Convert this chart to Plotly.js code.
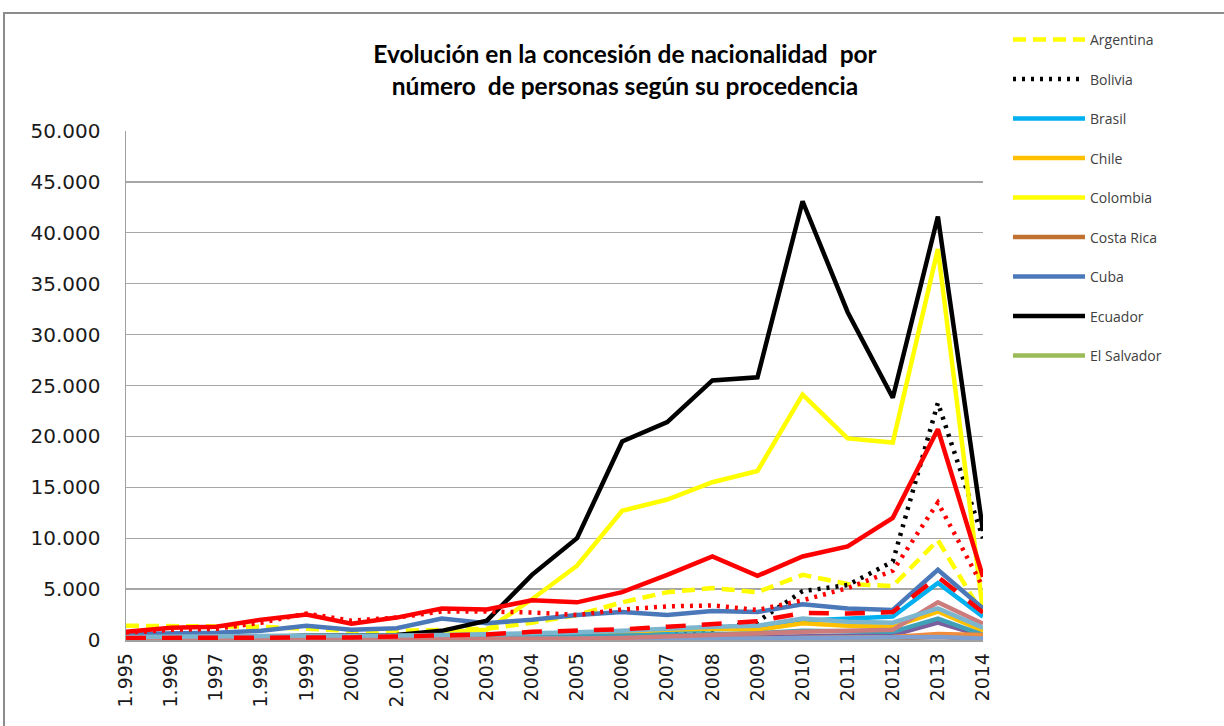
<!DOCTYPE html>
<html>
<head>
<meta charset="utf-8">
<script src="https://cdn.plot.ly/plotly-3.0.1.min.js"></script>
<style>html,body{margin:0;padding:0;background:#fff;}#chart{width:1224px;height:726px;}</style>
</head>
<body>
<div id="chart"></div>
<script>
var years = [1995,1996,1997,1998,1999,2000,2001,2002,2003,2004,2005,2006,2007,2008,2009,2010,2011,2012,2013,2014];
var yearLabels = ["1.995","1.996","1997","1.998","1999","2000","2.001","2002","2003","2004","2005","2006","2007","2008","2009","2010","2011","2012","2013","2014"];

var argentina   = [1400,1400,1400,1300,1100,900,900,1000,1100,1700,2450,3700,4700,5100,4700,6400,5500,5300,9800,2500];
var bolivia     = [50,50,50,60,70,80,90,100,150,250,350,500,700,1000,1800,4800,5400,7700,23300,10000];
var brasil      = [150,150,200,250,300,250,300,400,450,550,650,750,900,1100,1200,1900,2100,2300,5600,2300];
var chile       = [150,150,200,200,250,250,300,350,450,550,650,750,1000,1100,1000,1650,1400,1300,2800,900];
var colombia    = [300,300,300,350,400,400,450,700,1000,4000,7300,12700,13800,15500,16600,24100,19800,19400,38400,2800];
var costaRica   = [10,10,10,15,20,20,25,30,40,50,60,70,80,100,100,150,150,150,300,100];
var cuba        = [600,600,700,900,1400,1000,1150,2100,1650,2000,2450,2750,2450,2850,2750,3500,3100,2950,6900,3100];
var ecuador     = [100,150,200,250,450,500,500,900,1900,6400,10000,19500,21400,25500,25800,43100,32200,23800,41600,10700];
var elSalvador  = [20,20,20,30,30,30,40,40,50,60,70,80,100,150,150,200,200,250,500,200];
var honduras    = [20,20,20,20,30,30,30,40,50,60,80,100,150,200,250,400,450,500,1700,400];
var mexico      = [100,100,100,150,150,150,200,200,250,300,350,400,500,600,650,900,850,800,2100,500];
var nicaragua   = [20,20,20,30,30,30,40,40,50,60,70,80,100,120,130,200,250,300,600,500];
var panama      = [50,50,50,50,60,60,70,80,90,100,110,120,130,150,150,200,200,200,300,150];
var paraguay    = [20,20,20,30,30,30,40,50,60,80,120,200,350,600,700,800,900,1000,3700,1600];
var peru        = [800,1200,1300,2000,2500,1600,2200,3100,3000,3900,3700,4700,6400,8200,6300,8200,9200,12000,20700,6200];
var repDom      = [700,1000,1100,1700,2600,1900,2200,2800,2800,2700,2450,3000,3300,3400,2950,3900,5100,6800,13500,5200];
var uruguay     = [300,300,350,400,450,400,450,500,550,600,750,900,1150,1300,1400,2100,1800,1700,3100,1200];
var venezuela   = [200,200,200,250,300,250,350,450,550,800,900,1050,1300,1550,1850,2650,2600,2750,6200,2700];

var seriesNames = ["Argentina","Bolivia","Brasil","Chile","Colombia","Costa Rica","Cuba","Ecuador","El Salvador","Honduras","México","Nicaragua","Panamá","Paraguay","Perú","Rep. Dominicana","Uruguay","Venezuela"];
var seriesValues = [argentina,bolivia,brasil,chile,colombia,costaRica,cuba,ecuador,elSalvador,honduras,mexico,nicaragua,panama,paraguay,peru,repDom,uruguay,venezuela];
var seriesColors = ["#FFFF00","#000000","#00B0F0","#FFC000","#FFFF00","#C0702F","#4A78B8","#000000","#9BBB59","#7B5E9E","#3FA0B8","#F08C3C","#7F9FD0","#CD7C7C","#FF0000","#FF0000","#7CB5CE","#FF0000"];
var seriesDash = ["13px,7px","3px,6px","solid","solid","solid","solid","solid","solid","solid","solid","solid","solid","solid","solid","solid","3px,6px","solid","20px,16px"];

var traces = seriesNames.map(function(n,i){
  return {
    type:'scatter', mode:'lines', name:n, x:years, y:seriesValues[i],
    legendgroup:'g'+i,
    line:{color:seriesColors[i], width:4.5, dash:seriesDash[i]},
    hoverinfo:'x+y+name'
  };
});

var layout = {
  width:1224, height:726,
  paper_bgcolor:'#ffffff', plot_bgcolor:'#ffffff',
  separators:',.',
  margin:{l:126, r:241, t:131, b:86},
  title:{
    text:'Evolución en la concesión de nacionalidad  por<br>número  de personas según su procedencia',
    font:{family:'Lato, "DejaVu Sans", sans-serif', size:24.5, color:'#000000', weight:'bold'},
    x:625/1224, xref:'container', xanchor:'center',
    y:1-63/726, yref:'container', yanchor:'top'
  },
  xaxis:{
    range:[1995,2014], tickvals:years, ticktext:yearLabels,
    tickangle:-90, showgrid:false, zeroline:false,
    showline:true, linecolor:'#A0A0A0', linewidth:1.5,
    ticks:'outside', ticklen:4, tickcolor:'rgba(0,0,0,0)',
    tickfont:{family:'"DejaVu Sans", sans-serif', size:19, color:'#1a1a1a'},
    fixedrange:true
  },
  yaxis:{
    range:[0,50000], dtick:5000, tick0:0, tickformat:',d',
    showgrid:true, gridcolor:'#A6A6A6', gridwidth:1.2, zeroline:false,
    showline:true, linecolor:'#A0A0A0', linewidth:1.5,
    ticks:'outside', ticklen:20, tickcolor:'rgba(0,0,0,0)',
    tickfont:{family:'"DejaVu Sans", sans-serif', size:20, color:'#1a1a1a'},
    fixedrange:true
  },
  legend:{
    x:(1008-126)/857, xanchor:'left', xref:'paper',
    y:(640-24)/509, yanchor:'top', yref:'paper',
    traceorder:'grouped', tracegroupgap:18.3,
    itemwidth:72,
    font:{family:'"Open Sans", sans-serif', size:14, color:'#404040'},
    bgcolor:'rgba(0,0,0,0)', borderwidth:0
  },
  shapes:[{
    type:'rect', xref:'paper', yref:'paper', layer:'below',
    x0:(4-126)/857, x1:(1240-126)/857,
    y0:(640-740)/509, y1:(640-13)/509,
    line:{color:'#8C8C8C', width:2}
  }],
  showlegend:true
};

Plotly.newPlot('chart', traces, layout, {displayModeBar:false, staticPlot:true});
</script>
</body>
</html>
